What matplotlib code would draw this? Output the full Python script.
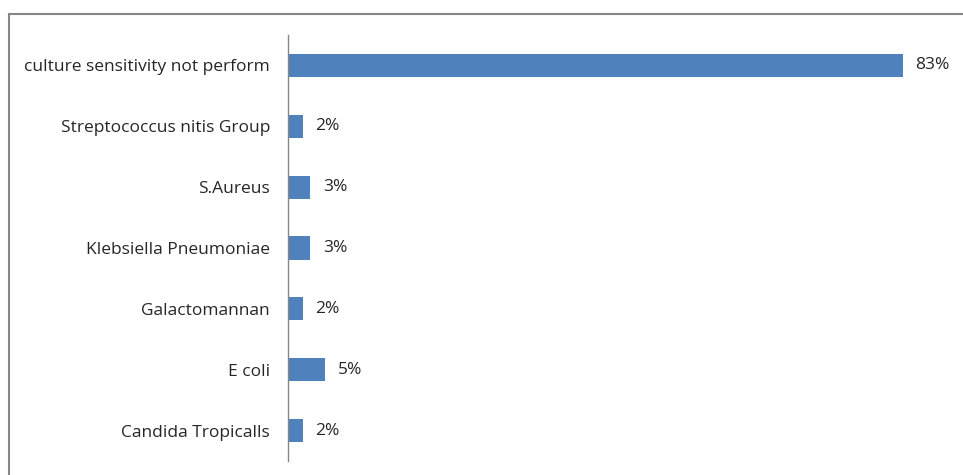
import matplotlib.pyplot as plt
from matplotlib.patches import Rectangle

categories = ["culture sensitivity not perform", "Streptococcus nitis Group", "S.Aureus",
              "Klebsiella Pneumoniae", "Galactomannan", "E coli", "Candida Tropicalls"]
values = [83, 2, 3, 3, 2, 5, 2]
labels = ["83%", "2%", "3%", "3%", "2%", "5%", "2%"]

plt.rcParams['font.family'] = ['Open Sans', 'DejaVu Sans']

fig = plt.figure(figsize=(9.63, 4.75), dpi=100)
# outer frame (right/bottom sides fall off the picture)
fig.patches.append(Rectangle((9 / 963, -0.1), 1.2, (475 - 14) / 475 + 0.1,
                             transform=fig.transFigure, fill=False,
                             edgecolor='#868686', linewidth=1.5))

ax = fig.add_axes([288 / 963, 14 / 475, 667 / 963, 426 / 475])
y = list(range(len(categories)))[::-1]
ax.barh(y, values, height=0.38, color='#4F81BD')
for yi, v, lab in zip(y, values, labels):
    ax.annotate(lab, (v, yi), xytext=(9, 0), textcoords='offset points',
                va='center', ha='left', fontsize=12.5, color='#262626')

ax.set_xlim(0, 90)
ax.set_ylim(-0.5, 6.5)
ax.set_yticks(y)
ax.set_yticklabels(categories, fontsize=12.5, color='#262626')
ax.tick_params(axis='y', length=0, pad=13)
ax.set_xticks([])
for s in ['top', 'right', 'bottom']:
    ax.spines[s].set_visible(False)
ax.spines['left'].set_color('#868686')
ax.spines['left'].set_linewidth(1)

fig.savefig("out.png", dpi=100)
